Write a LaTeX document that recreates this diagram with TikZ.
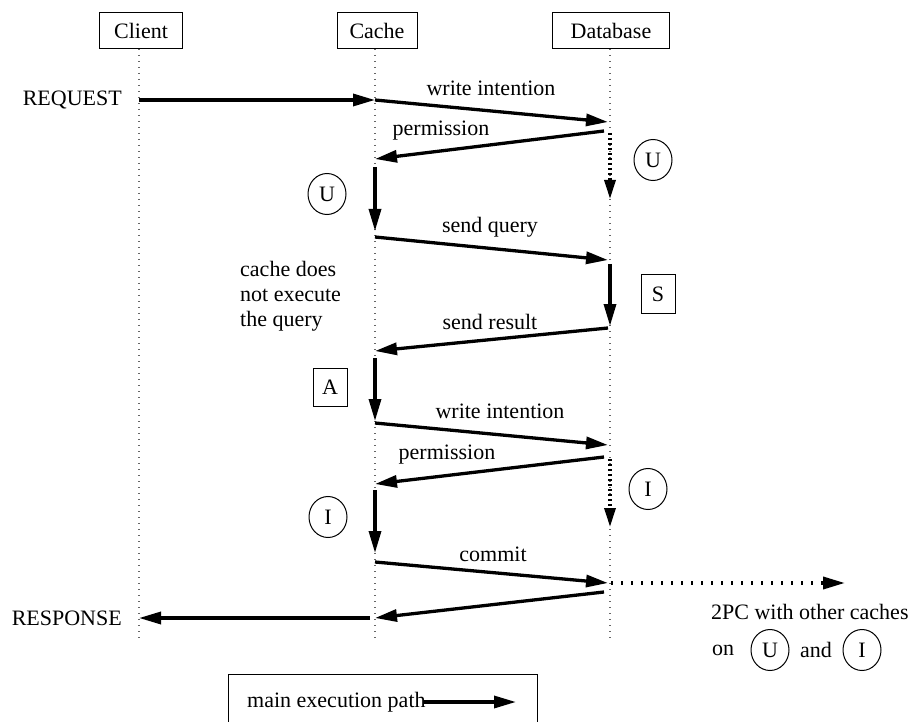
\documentclass[tikz,border=0pt]{standalone}
\usepackage{fontspec}
\setmainfont{Liberation Serif}
\usetikzlibrary{arrows.meta,shapes.geometric}

\tikzset{
  actor/.style={draw, line width=1pt, minimum height=36pt, inner sep=0pt},
  lifeline/.style={line width=1.3pt, gray!80!black, dash pattern=on 1.4pt off 4.6pt},
  flow/.style={line width=3.3pt, -{Triangle[length=22pt,width=12pt]}},
  lock/.style={line width=3.3pt, dash pattern=on 2pt off 3pt, -{Triangle[length=19pt,width=11pt]}},
  twopc/.style={line width=3.6pt, dash pattern=on 1.8pt off 8.2pt, -{Triangle[length=22pt,width=12pt]}},
  state/.style={draw, ellipse, line width=1pt, minimum width=38pt, minimum height=41pt, inner sep=0pt},
  phase/.style={draw, rectangle, line width=1pt, minimum width=34pt, minimum height=38pt, inner sep=0pt},
  lbl/.style={inner sep=0pt}
}

\begin{document}
\begin{tikzpicture}[x=1pt, y=-1pt, font=\fontsize{22}{25}\selectfont]
\useasboundingbox (0,0) rectangle (916,722);
\clip (0,0) rectangle (916,722);

% participants
\node[actor, minimum width=83pt] (client) at (141,31) {Client};
\node[actor, minimum width=80pt] (cache) at (377,31) {Cache};
\node[actor, minimum width=117pt] (db) at (611,31) {Database};

% lifelines
\coordinate (clEnd) at (139,640);
\coordinate (caEnd) at (375,640);
\coordinate (dbEnd) at (610,640);
\draw[lifeline] (139,49) -- (clEnd);
\draw[lifeline] (375,49) -- (caEnd);
\draw[lifeline] (610,49) -- (dbEnd);

% points on the lifelines
\coordinate (cl1) at (139,100);
\coordinate (ca1) at (375,100);
\coordinate (db1) at (608,122);
\coordinate (db2) at (604,131);
\coordinate (ca2) at (375,159);
\coordinate (db2t) at (610,133);
\coordinate (db2b) at (610,199);
\coordinate (ca3) at (375,167);
\coordinate (ca4) at (375,231);
\coordinate (ca5) at (375,237);
\coordinate (db3) at (608,260);
\coordinate (db4) at (610,264);
\coordinate (db5) at (610,326);
\coordinate (db6) at (608,328);
\coordinate (ca6) at (375,351);
\coordinate (ca7) at (375,358);
\coordinate (ca8) at (375,421);
\coordinate (ca9) at (375,423);
\coordinate (db7) at (608,445);
\coordinate (db8) at (604,457);
\coordinate (ca10) at (375,484);
\coordinate (db8t) at (610,459);
\coordinate (db8b) at (610,527);
\coordinate (ca11) at (375,490);
\coordinate (ca12) at (375,553);
\coordinate (ca13) at (375,562);
\coordinate (db9) at (608,583);
\coordinate (db9r) at (611,583);
\coordinate (ext) at (845,583);
\coordinate (db10) at (604,592);
\coordinate (ca14) at (375,618);
\coordinate (ca15) at (370,618);
\coordinate (cl2) at (139,618);

% message flow
\node[lbl, anchor=east] (req) at (122,100) {REQUEST};
\draw[flow] (cl1) -- (ca1);
\draw[flow] (ca1) -- (db1);
\node[lbl] (wi1) at (491,88) {write intention};
\draw[flow] (db2) -- (ca2);
\node[lbl] (pm1) at (441,131) {permission};
\draw[lock] (db2t) -- (db2b);
\node[state] (u1) at (653,160) {U};
\draw[flow] (ca3) -- (ca4);
\node[state] (u2) at (327,194) {U};
\draw[flow] (ca5) -- (db3);
\node[lbl] (sq) at (490,227) {send query};
\node[lbl, anchor=west, align=left] (note) at (240,296) {cache does\\not execute\\the query};
\draw[flow] (db4) -- (db5);
\node[phase] (s) at (658,294) {S};
\draw[flow] (db6) -- (ca6);
\node[lbl] (sr) at (490,322) {send result};
\draw[flow] (ca7) -- (ca8);
\node[phase] (a) at (330,387) {A};
\draw[flow] (ca9) -- (db7);
\node[lbl] (wi2) at (500,411) {write intention};
\draw[flow] (db8) -- (ca10);
\node[lbl] (pm2) at (447,455) {permission};
\draw[lock] (db8t) -- (db8b);
\node[state] (i1) at (648,489) {I};
\draw[flow] (ca11) -- (ca12);
\node[state] (i2) at (328,517) {I};
\draw[flow] (ca13) -- (db9);
\node[lbl] (cm) at (493,554) {commit};
\draw[twopc] (db9r) -- (ext);
\draw[flow] (db10) -- (ca14);
\draw[flow] (ca15) -- (cl2);
\node[lbl, anchor=east] (resp) at (122,618) {RESPONSE};

% two-phase commit note
\node[lbl, anchor=west] (tpc) at (711,612) {2PC with other caches};
\node[lbl, anchor=west] (on) at (712,650) {on};
\node[state] (u3) at (770,650) {U};
\node[lbl, anchor=west] (and) at (800,650) {and};
\node[state] (i3) at (862,650) {I};

% legend
\draw[line width=1pt] (228,740) -- (228,674) -- (537,674) -- (537,740);
\node[lbl, anchor=west] (legtext) at (247,702) {main execution path};
\coordinate (legA) at (424,702);
\coordinate (legB) at (516,702);
\draw[flow] (legA) -- (legB);
\end{tikzpicture}
\end{document}
